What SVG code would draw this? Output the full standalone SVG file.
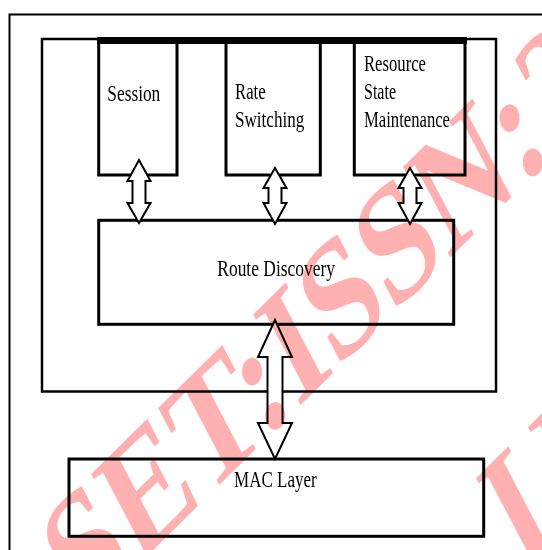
<svg xmlns="http://www.w3.org/2000/svg" width="542" height="550" viewBox="0 0 542 550">
  <style>
    .frame { fill: none; stroke: #000; }
    .box { fill: none; stroke: #000; stroke-width: 3; }
    .arrow { fill: #fff; stroke: #000; stroke-width: 2; stroke-linejoin: miter; }
    .lbl { font-family: "Liberation Serif", "Times New Roman", serif; font-size: 24px; fill: #000; }
    .wm { font-family: "Liberation Serif", "Times New Roman", serif; font-weight: bold; font-size: 170px; fill: #ffb0b0; mix-blend-mode: multiply; }
  </style>
  <rect x="0" y="0" width="542" height="550" fill="#fff"/>

  <g id="outer-frame">
    <path class="frame" stroke-width="2" d="M9.5,550 V14.5 H542"/>
  </g>

  <g id="inner-frame">
    <rect class="frame" stroke-width="2.5" x="42" y="39" width="454" height="352.5"/>
    <rect x="97" y="37" width="370" height="7" fill="#000"/>
  </g>

  <g id="session">
    <rect class="box" x="98.7" y="42" width="78.3" height="133"/>
    <text class="lbl" x="107.3" y="100.7" textLength="53" lengthAdjust="spacingAndGlyphs">Session</text>
  </g>

  <g id="rate-switching">
    <rect class="box" x="226" y="42" width="94.3" height="133"/>
    <text class="lbl" x="235" y="98.5" textLength="30.7" lengthAdjust="spacingAndGlyphs">Rate</text>
    <text class="lbl" x="235" y="126.7" textLength="69.3" lengthAdjust="spacingAndGlyphs">Switching</text>
  </g>

  <g id="resource-state-maintenance">
    <rect class="box" x="354.3" y="42" width="110.7" height="133"/>
    <text class="lbl" x="364" y="70.5" textLength="62" lengthAdjust="spacingAndGlyphs">Resource</text>
    <text class="lbl" x="364" y="98.5" textLength="32" lengthAdjust="spacingAndGlyphs">State</text>
    <text class="lbl" x="364" y="126.7" textLength="86" lengthAdjust="spacingAndGlyphs">Maintenance</text>
  </g>

  <g id="route-discovery">
    <rect class="box" x="98.7" y="220.3" width="355" height="104"/>
    <text class="lbl" x="217.3" y="276" textLength="117.7" lengthAdjust="spacingAndGlyphs">Route Discovery</text>
  </g>

  <g id="mac-layer">
    <rect class="box" x="69" y="459" width="414.7" height="77.3"/>
    <text class="lbl" x="234" y="487.3" textLength="82.7" lengthAdjust="spacingAndGlyphs">MAC Layer</text>
  </g>

  <g id="connectors">
    <polygon class="arrow" points="139,160 150.5,181 145.5,181 145.5,203 150.5,203 139,223 127.5,203 132.5,203 132.5,181 127.5,181"/>
    <polygon class="arrow" points="275,168 286.5,188 281.5,188 281.5,203 286.5,203 275,224 263.5,203 268.5,203 268.5,188 263.5,188"/>
    <polygon class="arrow" points="410,168 421.5,188 416.5,188 416.5,203 421.5,203 410,224 398.5,203 403.5,203 403.5,188 398.5,188"/>
    <polygon class="arrow" points="275,320 292,357 282.5,357 282.5,423 292,423 275,459 258,423 267.5,423 267.5,357 258,357"/>
  </g>

  <g id="watermark">
    <text class="wm" transform="matrix(0.5928 -0.5835 0.426 0.8121 8 693)" x="0" y="0">ASET:ISSN:2</text>
    <text class="wm" transform="matrix(0.5928 -0.5835 0.426 0.8121 520 572)" x="0" y="0">IJ</text>
  </g>
</svg>
